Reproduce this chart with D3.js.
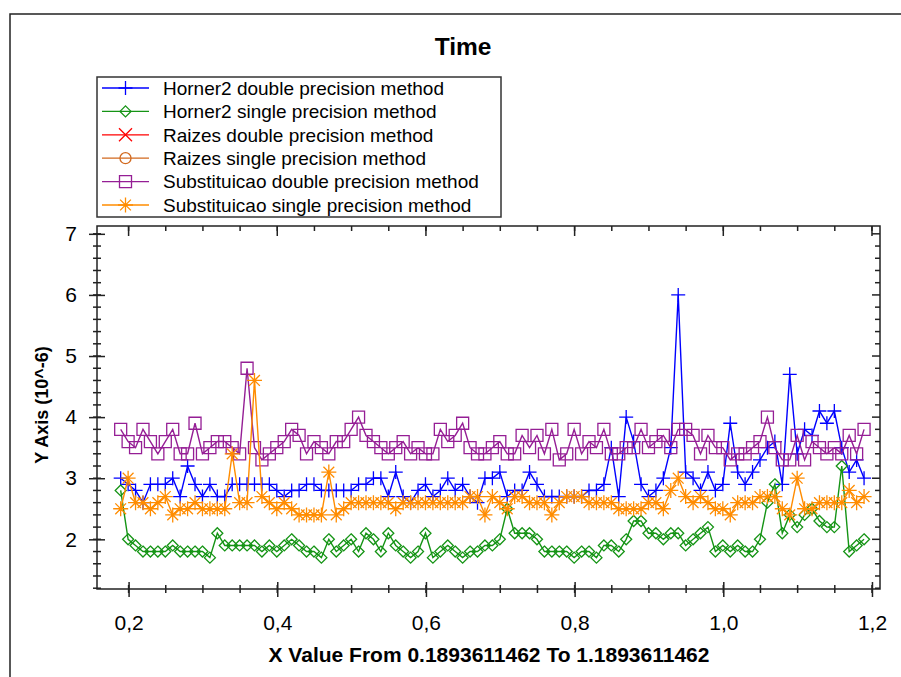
<!DOCTYPE html>
<meta charset="utf-8">
<style>
body { margin: 0; background: #fff; }
svg { display: block; }
text { font-family: Arial, "Liberation Sans", sans-serif; fill: #000; }
.frame { fill: none; stroke: #222; stroke-width: 1.5px; }
.tick line, .mtick { stroke: #222; stroke-width: 1.5px; }
.series path.line { fill: none; stroke-width: 1.4px; }
.marker { fill: none; stroke-width: 1.3px; }
</style>
<svg width="901" height="677"></svg>
<script src="https://d3js.org/d3.v7.min.js"></script>
<script>

// x runs from 0.1893611462 in steps of 0.01 (101 samples)
var xStart = 0.1893611462,
    xStep = 0.01;

var horner2Double = [
  3.0,2.9,2.8,2.6,2.9,2.9,2.9,3.0,2.7,3.2, 2.9,2.7,2.9,2.7,2.7,2.9,2.9,2.9,2.9,2.9,
  2.9,2.8,2.7,2.8,2.8,2.9,2.9,2.8,2.8,2.8, 2.8,2.8,2.9,2.9,3.0,3.0,2.7,3.1,2.7,2.6,
  2.8,2.9,2.7,2.8,3.0,2.8,2.9,2.7,2.6,3.0, 3.0,3.1,2.7,2.8,2.8,3.1,2.9,2.7,2.7,2.7,
  2.7,2.7,2.7,2.8,2.8,2.9,3.5,2.7,4.0,3.6, 2.9,2.7,2.8,3.0,3.5,6.0,3.1,3.0,2.8,3.1,
  2.8,2.9,3.9,3.1,2.9,3.1,3.3,3.5,3.6,2.9, 4.7,3.4,3.8,3.7,4.1,3.9,4.1,3.5,3.1,3.3,
  3.0];

var horner2Single = [
  2.8,2.0,1.9,1.8,1.8,1.8,1.8,1.9,1.8,1.8, 1.8,1.8,1.7,2.1,1.9,1.9,1.9,1.9,1.9,1.8,
  1.9,1.8,1.9,2.0,1.9,1.8,1.8,1.7,2.0,1.8, 1.9,2.0,1.8,2.1,2.0,1.8,2.1,1.9,1.8,1.7,
  1.8,2.1,1.7,1.8,1.9,1.8,1.7,1.8,1.8,1.9, 1.9,2.0,2.5,2.1,2.1,2.1,2.0,1.8,1.8,1.8,
  1.8,1.7,1.8,1.8,1.7,1.9,1.9,1.8,2.0,2.3, 2.3,2.1,2.1,2.0,2.1,2.1,1.9,2.0,2.1,2.2,
  1.8,1.9,1.8,1.9,1.8,1.8,2.0,2.6,2.9,2.1, 2.4,2.2,2.4,2.5,2.3,2.2,2.2,3.2,1.8,1.9,
  2.0];

// the two Raizes series do not show in the plotted range
var raizesDouble = [];
var raizesSingle = [];

var substDouble = [
  3.8,3.6,3.5,3.8,3.6,3.4,3.6,3.8,3.4,3.4, 3.9,3.4,3.5,3.6,3.6,3.5,3.4,4.8,3.5,3.3,
  3.4,3.5,3.6,3.8,3.7,3.4,3.6,3.5,3.4,3.6, 3.6,3.8,4.0,3.7,3.6,3.5,3.4,3.5,3.6,3.4,
  3.5,3.4,3.4,3.8,3.6,3.7,3.9,3.5,3.4,3.4, 3.5,3.6,3.4,3.4,3.7,3.5,3.7,3.4,3.8,3.3,
  3.4,3.8,3.4,3.6,3.5,3.8,3.4,3.4,3.5,3.5, 3.8,3.5,3.6,3.7,3.5,3.8,3.8,3.7,3.4,3.7,
  3.5,3.5,3.3,3.4,3.4,3.5,3.6,4.0,3.5,3.3, 3.3,3.7,3.3,3.6,3.5,3.4,3.5,3.4,3.7,3.4,
  3.8];

var substSingle = [
  2.5,3.0,2.6,2.6,2.5,2.6,2.7,2.4,2.5,2.5, 2.6,2.5,2.5,2.5,2.5,3.4,2.6,2.6,4.6,2.7,
  2.6,2.5,2.6,2.5,2.4,2.4,2.4,2.4,3.1,2.4, 2.5,2.6,2.6,2.6,2.6,2.6,2.6,2.5,2.6,2.6,
  2.6,2.6,2.6,2.6,2.6,2.6,2.6,2.7,2.7,2.4, 2.7,2.6,2.5,2.7,2.7,2.6,2.6,2.6,2.4,2.6,
  2.7,2.7,2.7,2.6,2.6,2.6,2.6,2.5,2.5,2.5, 2.5,2.6,2.6,2.5,2.8,3.0,2.7,2.6,2.7,2.6,
  2.5,2.5,2.4,2.6,2.6,2.6,2.7,2.7,2.7,2.5, 2.4,3.0,2.5,2.5,2.6,2.6,2.6,2.6,2.8,2.6,
  2.7];

var seriesNames = [
  "Horner2 double precision method",
  "Horner2 single precision method",
  "Raizes double precision method",
  "Raizes single precision method",
  "Substituicao double precision method",
  "Substituicao single precision method"
];

var xMajor = [0.2, 0.4, 0.6, 0.8, 1.0, 1.2];
var yMajor = [2, 3, 4, 5, 6, 7];

var series = [
  {name: seriesNames[0], color: "#0000ff", marker: "plus",    values: horner2Double},
  {name: seriesNames[1], color: "#159415", marker: "diamond", values: horner2Single},
  {name: seriesNames[2], color: "#ff0000", marker: "cross",   values: raizesDouble},
  {name: seriesNames[3], color: "#d2691e", marker: "circle",  values: raizesSingle},
  {name: seriesNames[4], color: "#951e95", marker: "square",  values: substDouble},
  {name: seriesNames[5], color: "#ff8c00", marker: "star",    values: substSingle}
];

var svg = d3.select("svg"),
    plotL = 97, plotR = 880, plotT = 226, plotB = 589;

var x = d3.scaleLinear().domain([0.1575, 1.2108]).range([plotL, plotR]),
    y = d3.scaleLinear().domain([1.187, 7.128]).range([plotB, plotT]);

function markerPath(type, r) {
  var d = r * 0.72;
  switch (type) {
    case "plus": return "M" + (-r) + ",0H" + r + "M0," + (-r) + "V" + r;
    case "diamond": return "M0," + (-r) + "L" + r + ",0L0," + r + "L" + (-r) + ",0Z";
    case "cross": return "M" + (-r) + "," + (-r) + "L" + r + "," + r + "M" + (-r) + "," + r + "L" + r + "," + (-r);
    case "square": return "M" + (-r) + "," + (-r) + "h" + 2 * r + "v" + 2 * r + "h" + (-2 * r) + "Z";
    case "circle": return "M" + (-r) + ",0A" + r + "," + r + " 0 1,0 " + r + ",0A" + r + "," + r + " 0 1,0 " + (-r) + ",0Z";
    case "star": return "M" + (-r) + ",0H" + r + "M0," + (-r) + "V" + r +
      "M" + (-d) + "," + (-d) + "L" + d + "," + d + "M" + (-d) + "," + d + "L" + d + "," + (-d);
  }
}
var markerSize = {plus: 7, diamond: 5.5, cross: 6.5, circle: 5.5, square: 6, star: 7.5};

// outer border
svg.append("path").attr("class", "frame")
    .attr("d", "M10,677V14H901");

// title
svg.append("text")
    .attr("x", 463).attr("y", 55)
    .attr("text-anchor", "middle")
    .attr("font-size", 24.5).attr("font-weight", "bold")
    .text("Time");

// ticks: left & bottom cross the axis, top & right point inward
var yMinor = d3.range(12, 71, 2).map(function(v) { return v / 10; });
var xMinor = d3.range(4, 25).map(function(v) { return v * 0.05; });

var ticks = svg.append("g");
ticks.selectAll(".ly").data(yMinor).enter().append("line").attr("class", "mtick")
    .attr("x1", plotL - 4).attr("x2", plotL + 4)
    .attr("y1", function(d) { return y(d); }).attr("y2", function(d) { return y(d); });
ticks.selectAll(".ry").data(yMinor).enter().append("line").attr("class", "mtick")
    .attr("x1", function(d) { return plotR - (Number.isInteger(d) ? 8 : 5); }).attr("x2", plotR)
    .attr("y1", function(d) { return y(d); }).attr("y2", function(d) { return y(d); });
ticks.selectAll(".bx").data(xMinor).enter().append("line").attr("class", "mtick")
    .attr("y1", plotB - 4).attr("y2", plotB + 4)
    .attr("x1", function(d) { return x(d); }).attr("x2", function(d) { return x(d); });
ticks.selectAll(".tx").data(xMinor.concat(xMajor)).enter().append("line").attr("class", "mtick")
    .attr("y1", plotT).attr("y2", function(d, i) { return plotT + (i >= xMinor.length ? 10 : 5); })
    .attr("x1", function(d) { return x(d); }).attr("x2", function(d) { return x(d); });

var xAxis = svg.append("g")
    .attr("transform", "translate(0," + plotB + ")")
    .call(d3.axisBottom(x).tickValues(xMajor).tickSize(8).tickPadding(18)
      .tickFormat(function(d) { return d3.format(".1f")(d).replace(".", ","); }));
xAxis.select(".domain").remove();
xAxis.selectAll(".tick line").attr("y1", -7);
xAxis.attr("font-size", 21).attr("font-family", null);

var yAxis = svg.append("g")
    .attr("transform", "translate(" + plotL + ",0)")
    .call(d3.axisLeft(y).tickValues(yMajor).tickSize(8).tickPadding(12).tickFormat(d3.format("d")));
yAxis.select(".domain").remove();
yAxis.selectAll(".tick line").attr("x1", 8);
yAxis.attr("font-size", 21).attr("font-family", null);

// plot frame
svg.append("rect").attr("class", "frame")
    .attr("x", plotL).attr("y", plotT)
    .attr("width", plotR - plotL).attr("height", plotB - plotT);

// axis titles
svg.append("text")
    .attr("x", 489).attr("y", 662)
    .attr("text-anchor", "middle")
    .attr("font-size", 21).attr("font-weight", "bold")
    .text("X Value From 0.1893611462 To 1.1893611462");

svg.append("text")
    .attr("transform", "translate(48,405) rotate(-90)")
    .attr("text-anchor", "middle")
    .attr("font-size", 18).attr("font-weight", "bold")
    .text("Y Axis (10^-6)");

// series
var line = d3.line()
    .x(function(d, i) { return x(xStart + i * xStep); })
    .y(function(d) { return y(d); });

var sg = svg.selectAll(".series")
  .data(series)
  .enter().append("g")
    .attr("class", "series");

sg.append("path")
    .attr("class", "line")
    .attr("stroke", function(d) { return d.color; })
    .attr("d", function(d) { return d.values.length ? line(d.values) : null; });

sg.each(function(s) {
  d3.select(this).selectAll(".marker")
    .data(s.values)
    .enter().append("path")
      .attr("class", "marker")
      .attr("stroke", s.color)
      .attr("transform", function(d, i) { return "translate(" + x(xStart + i * xStep) + "," + y(d) + ")"; })
      .attr("d", markerPath(s.marker, markerSize[s.marker]));
});

// legend
var legend = svg.append("g");
legend.append("rect")
    .attr("x", 97).attr("y", 77).attr("width", 404).attr("height", 140)
    .attr("fill", "#fff").attr("stroke", "#333").attr("stroke-width", 1.5);

var item = legend.selectAll(".item")
  .data(series)
  .enter().append("g")
    .attr("transform", function(d, i) { return "translate(0," + (88 + i * 23.4) + ")"; });

item.append("line")
    .attr("x1", 102).attr("x2", 149)
    .attr("stroke", function(d) { return d.color; })
    .attr("stroke-width", 1.3);

item.append("path")
    .attr("class", "marker")
    .attr("transform", "translate(125.5,0)")
    .attr("stroke", function(d) { return d.color; })
    .attr("d", function(d) { return markerPath(d.marker, markerSize[d.marker]); });

item.append("text")
    .attr("x", 163).attr("y", 6.8)
    .attr("font-size", 19)
    .text(function(d) { return d.name; });

</script>
